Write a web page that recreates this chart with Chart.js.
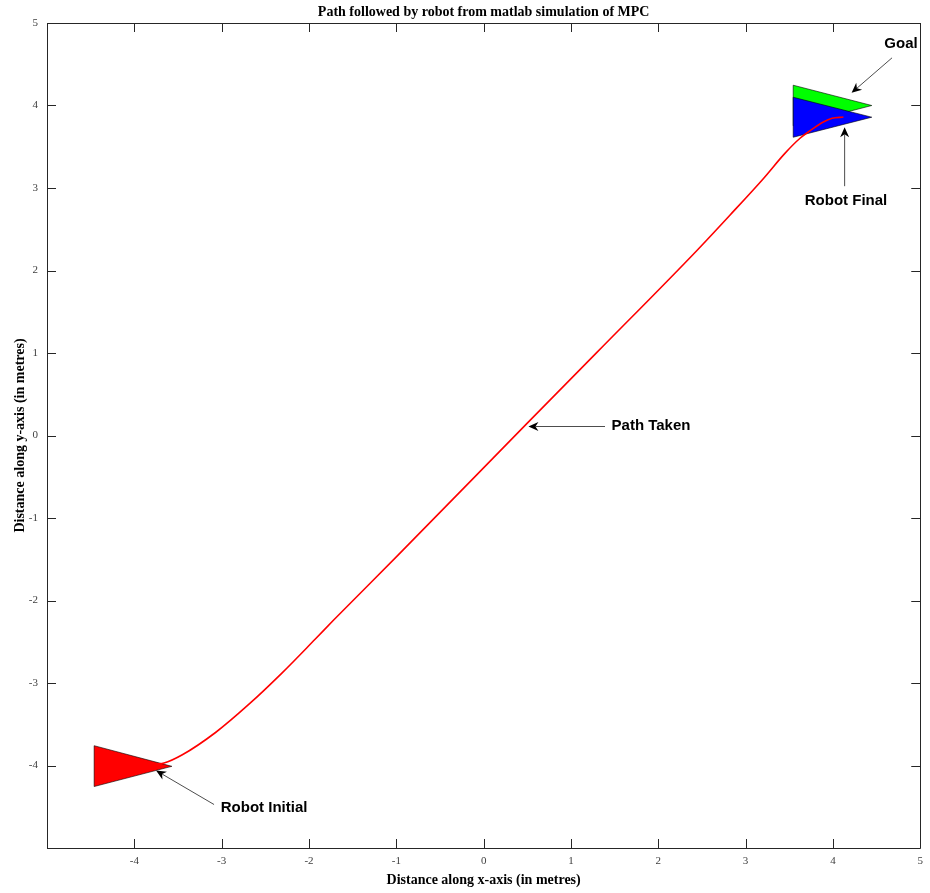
<!DOCTYPE html>
<html>
<head>
<meta charset="utf-8">
<title>MPC robot path</title>
<script src="https://cdn.jsdelivr.net/npm/chart.js@4/dist/chart.umd.min.js"></script>
<style>
  html, body { margin: 0; padding: 0; background: #fff; }
  #c { display: block; }
</style>
</head>
<body>
<canvas id="c" width="930" height="893"></canvas>
<script>
// Trajectory of the robot (metres)
const pathX = [-4.00, -3.85, -3.66, -3.45, -3.07, -2.69, -2.31, -1.93, -1.72, -0.98, 0.50, 1.30, 2.44, 2.82, 3.20, 3.45, 3.62, 3.76, 3.89, 3.99, 4.12];
const pathY = [-4.00, -3.99, -3.97, -3.87, -3.60, -3.26, -2.88, -2.47, -2.24, -1.45, 0.15, 1.01, 2.24, 2.67, 3.11, 3.42, 3.60, 3.71, 3.80, 3.845, 3.86];

// Robot outlines (closed triangles, nose pointing along heading)
const initialX = [-4.46, -3.57, -4.46, -4.46];
const initialY = [-3.76, -4.01, -4.255, -3.76];
const goalX = [3.545, 4.445, 3.545, 3.545];
const goalY = [4.246, 4.00, 3.754, 4.246];
const finalX = [3.545, 4.445, 3.545, 3.545];
const finalY = [4.100, 3.858, 3.615, 4.100];

// Axis ticks
const tickValues = [-5, -4, -3, -2, -1, 0, 1, 2, 3, 4, 5];

// Callouts: label text, label anchor, arrow tail and arrow head (metres)
const calloutText = ['Goal', 'Robot Final', 'Path Taken', 'Robot Initial'];
const calloutLabel = [[4.780, 4.752], [4.150, 2.840], [1.465, 0.113], [-3.010, -4.513]];
const calloutAlign = ['center', 'center', 'left', 'left'];
const calloutTail = [[4.677, 4.578], [4.134, 3.022], [1.390, 0.109], [-3.087, -4.473]];
const calloutHead = [[4.214, 4.154], [4.134, 3.737], [0.513, 0.109], [-3.751, -4.061]];

const chartTitle = 'Path followed by robot from matlab simulation of MPC';

const toPoints = (xs, ys) => xs.map((x, i) => ({ x: x, y: ys[i] }));

const serif = '"Liberation Serif", "Times New Roman", serif';
const sans = '"Liberation Sans", Arial, sans-serif';

// Title centred over the plotting area
const axesTitle = {
  id: 'axesTitle',
  afterDraw(chart) {
    const { ctx, chartArea: a } = chart;
    ctx.save();
    ctx.font = 'bold 14px ' + serif;
    ctx.fillStyle = '#000';
    ctx.textAlign = 'center';
    ctx.textBaseline = 'middle';
    ctx.fillText(chartTitle, (a.left + a.right) / 2, 12);
    ctx.restore();
  }
};

// Box around the axes with inward tick marks on all four sides
const frameTicks = {
  id: 'frameTicks',
  afterDatasetsDraw(chart) {
    const { ctx, chartArea: a, scales } = chart;
    const len = 9;
    ctx.save();
    ctx.strokeStyle = '#262626';
    ctx.lineWidth = 1;
    ctx.beginPath();
    ctx.rect(Math.round(a.left) + 0.5, Math.round(a.top) + 0.5,
             Math.round(a.right - a.left), Math.round(a.bottom - a.top));
    ctx.stroke();
    ctx.beginPath();
    tickValues.forEach(v => {
      const px = Math.round(scales.x.getPixelForValue(v)) + 0.5;
      ctx.moveTo(px, a.bottom); ctx.lineTo(px, a.bottom - len);
      ctx.moveTo(px, a.top); ctx.lineTo(px, a.top + len);
      const py = Math.round(scales.y.getPixelForValue(v)) + 0.5;
      ctx.moveTo(a.left, py); ctx.lineTo(a.left + len, py);
      ctx.moveTo(a.right, py); ctx.lineTo(a.right - len, py);
    });
    ctx.stroke();
    ctx.restore();
  }
};

// Text arrows pointing at the robots and the path
const callouts = {
  id: 'callouts',
  afterDraw(chart) {
    const { ctx, scales } = chart;
    const X = v => scales.x.getPixelForValue(v);
    const Y = v => scales.y.getPixelForValue(v);
    ctx.save();
    calloutText.forEach((txt, i) => {
      const tx = X(calloutTail[i][0]), ty = Y(calloutTail[i][1]);
      const hx = X(calloutHead[i][0]), hy = Y(calloutHead[i][1]);
      const ang = Math.atan2(hy - ty, hx - tx);
      const L = 10, W = 4.5, notch = 7;
      const bx = hx - notch * Math.cos(ang), by = hy - notch * Math.sin(ang);
      ctx.strokeStyle = '#4d4d4d';
      ctx.lineWidth = 1;
      ctx.beginPath();
      ctx.moveTo(tx, ty);
      ctx.lineTo(bx, by);
      ctx.stroke();
      const cx = hx - L * Math.cos(ang), cy = hy - L * Math.sin(ang);
      const nx = -Math.sin(ang), ny = Math.cos(ang);
      ctx.fillStyle = '#000';
      ctx.beginPath();
      ctx.moveTo(hx, hy);
      ctx.lineTo(cx + nx * W, cy + ny * W);
      ctx.lineTo(bx, by);
      ctx.lineTo(cx - nx * W, cy - ny * W);
      ctx.closePath();
      ctx.fill();
      ctx.font = 'bold 15px ' + sans;
      ctx.fillStyle = '#000';
      ctx.textAlign = calloutAlign[i];
      ctx.textBaseline = 'middle';
      ctx.fillText(txt, X(calloutLabel[i][0]), Y(calloutLabel[i][1]));
    });
    ctx.restore();
  }
};

const shapeStyle = (fillColour) => ({
  showLine: true,
  fill: 'shape',
  backgroundColor: fillColour,
  borderColor: '#000',
  borderWidth: 0.6,
  pointRadius: 0,
  tension: 0
});

new Chart(document.getElementById('c'), {
  type: 'scatter',
  data: {
    datasets: [
      Object.assign({ label: 'Path Taken', data: toPoints(pathX, pathY), order: 0 },
        { showLine: true, fill: false, borderColor: '#ff0000', borderWidth: 1.6, pointRadius: 0,
          cubicInterpolationMode: 'monotone' }),
      Object.assign({ label: 'Robot Initial', data: toPoints(initialX, initialY), order: 1 }, shapeStyle('#ff0000')),
      Object.assign({ label: 'Robot Final', data: toPoints(finalX, finalY), order: 2 }, shapeStyle('#0000ff')),
      Object.assign({ label: 'Goal', data: toPoints(goalX, goalY), order: 3 }, shapeStyle('#00ff00'))
    ]
  },
  options: {
    responsive: false,
    animation: false,
    events: [],
    layout: { padding: { top: 23, right: 6, bottom: 0, left: 0 } },
    plugins: {
      legend: { display: false },
      tooltip: { enabled: false },
      title: { display: false }
    },
    scales: {
      x: {
        type: 'linear',
        min: -5, max: 5,
        afterBuildTicks(s) { s.ticks = tickValues.map(v => ({ value: v })); },
        afterFit(s) { s.height = 45; },
        ticks: {
          autoSkip: false, maxRotation: 0,
          callback: v => (v === -5 ? '' : String(v)),
          color: '#404040',
          font: { family: serif, size: 11 },
          padding: 7
        },
        grid: { display: false, drawTicks: false },
        border: { display: false },
        title: {
          display: true,
          text: 'Distance along x-axis (in metres)',
          color: '#000',
          font: { family: serif, weight: 'bold', size: 14 },
          padding: { top: 0, bottom: 4.5 }
        }
      },
      y: {
        type: 'linear',
        min: -5, max: 5,
        afterBuildTicks(s) { s.ticks = tickValues.map(v => ({ value: v })); },
        afterFit(s) { s.width = 47; },
        ticks: {
          autoSkip: false,
          callback: v => (v === -5 ? '' : String(v)),
          color: '#404040',
          font: { family: serif, size: 11 },
          padding: 9
        },
        grid: { display: false, drawTicks: false },
        border: { display: false },
        title: {
          display: true,
          text: 'Distance along y-axis (in metres)',
          color: '#000',
          font: { family: serif, weight: 'bold', size: 14 },
          padding: { top: 12, bottom: 0 }
        }
      }
    }
  },
  plugins: [frameTicks, callouts, axesTitle]
});
</script>
</body>
</html>
